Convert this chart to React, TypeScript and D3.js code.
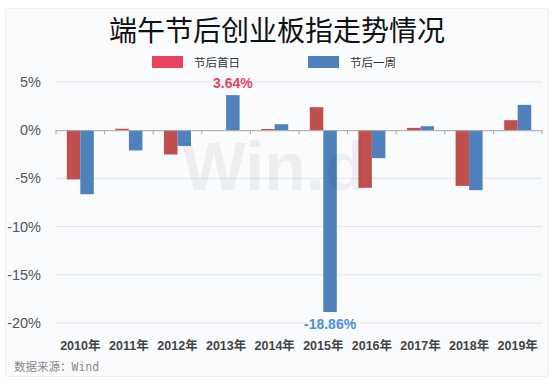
import * as d3 from "d3";
import { useEffect, useRef } from "react";

const years = ["2010年", "2011年", "2012年", "2013年", "2014年", "2015年", "2016年", "2017年", "2018年", "2019年"];
const firstDay = [-5.11, 0.15, -2.52, 0, 0.12, 2.39, -5.98, 0.24, -5.78, 1.04];
const firstWeek = [-6.64, -2.1, -1.63, 3.64, 0.62, -18.86, -2.9, 0.41, -6.22, 2.63];
const seriesNames = ["节后首日", "节后一周"];
const yTicks = [5, 0, -5, -10, -15, -20];

const W = 554;
const H = 384;
const CJK = "'Noto Sans CJK SC', 'Liberation Sans', sans-serif";
const LATIN = "'Liberation Sans', 'Noto Sans CJK SC', Arial, sans-serif";

export default function App() {
  const svgRef = useRef<SVGSVGElement | null>(null);

  useEffect(() => {
    if (!svgRef.current) return;
    const svg = d3.select(svgRef.current);
    svg.selectAll("*").remove();

    const plot = { left: 56, right: 542 };

    const x = d3.scaleBand<string>().domain(years).range([plot.left, plot.right]);
    const inner = d3
      .scaleBand<number>()
      .domain([0, 1])
      .range([0, 27])
      .paddingInner(0);
    const groupOffset = (x.bandwidth() - 27) / 2;

    const y = d3.scaleLinear().domain([5, -20]).range([82, 323]);

    svg.append("rect").attr("width", W).attr("height", H).attr("fill", "#ffffff");
    svg
      .append("rect")
      .attr("x", 5.5)
      .attr("y", 8.5)
      .attr("width", 543)
      .attr("height", 368)
      .attr("rx", 3)
      .attr("fill", "#f9fbfd")
      .attr("stroke", "#eceff3");

    // title
    svg
      .append("text")
      .attr("x", W / 2)
      .attr("y", 41)
      .attr("text-anchor", "middle")
      .attr("font-family", CJK)
      .attr("font-size", 28)
      .attr("fill", "#111")
      .text("端午节后创业板指走势情况");

    // legend
    const legendColors = ["#e8435f", "#4f81bd"];
    const legendX = [152, 308];
    seriesNames.forEach((name, i) => {
      svg
        .append("rect")
        .attr("x", legendX[i])
        .attr("y", 56)
        .attr("width", 31)
        .attr("height", 12)
        .attr("fill", legendColors[i]);
      svg
        .append("text")
        .attr("x", legendX[i] + 42)
        .attr("y", 66.5)
        .attr("font-family", CJK)
        .attr("font-size", 11.5)
        .attr("fill", "#333")
        .text(name);
    });

    // grid
    svg
      .append("g")
      .selectAll("line")
      .data(yTicks.filter((t) => t !== 0))
      .join("line")
      .attr("x1", plot.left)
      .attr("x2", plot.right)
      .attr("y1", (t) => y(t))
      .attr("y2", (t) => y(t))
      .attr("stroke", "#e3e5e8")
      .attr("stroke-width", 1);

    svg
      .append("g")
      .selectAll("text")
      .data(yTicks)
      .join("text")
      .attr("x", 41)
      .attr("y", (t) => y(t) + 5)
      .attr("text-anchor", "end")
      .attr("font-family", LATIN)
      .attr("font-size", 14.5)
      .attr("fill", "#555")
      .text((t) => `${t}%`);

    // bars
    const series = [
      { values: firstDay, color: "#c0504d" },
      { values: firstWeek, color: "#4f81bd" },
    ];
    series.forEach((s, si) => {
      svg
        .append("g")
        .selectAll("rect")
        .data(s.values)
        .join("rect")
        .attr("x", (_, i) => (x(years[i]) ?? 0) + groupOffset + (inner(si) ?? 0))
        .attr("y", (v) => y(Math.max(v, 0)))
        .attr("width", inner.bandwidth())
        .attr("height", (v) => Math.abs(y(v) - y(0)))
        .attr("fill", s.color);
    });

    // zero axis with ticks at band edges
    svg
      .append("line")
      .attr("x1", plot.left)
      .attr("x2", plot.right)
      .attr("y1", y(0) + 0.5)
      .attr("y2", y(0) + 0.5)
      .attr("stroke", "#a6a6a6");
    const edges = [...years.map((c) => x(c) ?? 0), plot.right];
    svg
      .append("g")
      .selectAll("line")
      .data(edges)
      .join("line")
      .attr("x1", (e) => e)
      .attr("x2", (e) => e)
      .attr("y1", y(0))
      .attr("y2", y(0) + 4)
      .attr("stroke", "#a6a6a6");

    // x labels
    svg
      .append("g")
      .selectAll("text")
      .data(years)
      .join("text")
      .attr("x", (c) => (x(c) ?? 0) + x.bandwidth() / 2)
      .attr("y", 350)
      .attr("text-anchor", "middle")
      .attr("font-family", LATIN)
      .attr("font-size", 12.5)
      .attr("font-weight", 700)
      .attr("fill", "#444")
      .text((c) => c);

    // value labels
    const i13 = years.indexOf("2013年");
    const i15 = years.indexOf("2015年");
    const blueCenter = (i: number) =>
      (x(years[i]) ?? 0) + groupOffset + (inner(1) ?? 0) + inner.bandwidth() / 2;
    svg
      .append("text")
      .attr("x", blueCenter(i13))
      .attr("y", y(firstWeek[i13]) - 7)
      .attr("text-anchor", "middle")
      .attr("font-family", LATIN)
      .attr("font-size", 14)
      .attr("font-weight", 700)
      .attr("fill", "#e8435f")
      .text(`${firstWeek[i13].toFixed(2)}%`);
    svg
      .append("text")
      .attr("x", blueCenter(i15))
      .attr("y", y(firstWeek[i15]) + 17)
      .attr("text-anchor", "middle")
      .attr("font-family", LATIN)
      .attr("font-size", 14)
      .attr("font-weight", 700)
      .attr("fill", "#4a8fdb")
      .text(`${firstWeek[i15].toFixed(2)}%`);

    // watermark
    svg
      .append("text")
      .attr("x", 274)
      .attr("y", 190)
      .attr("text-anchor", "middle")
      .attr("font-family", LATIN)
      .attr("font-size", 68)
      .attr("font-weight", 700)
      .attr("fill", "#000")
      .attr("fill-opacity", 0.05)
      .text("Win.d");

    // source
    const src = svg
      .append("text")
      .attr("x", 14)
      .attr("y", 371)
      .attr("font-size", 11.5)
      .attr("fill", "#8a8a8a");
    src.append("tspan").attr("font-family", CJK).text("数据来源：");
    src.append("tspan").attr("font-family", "'DejaVu Sans Mono', 'Liberation Mono', monospace").text("Wind");
  }, []);

  return (
    <div style={{ position: "fixed", left: 0, top: 0 }}>
      <svg ref={svgRef} width={W} height={H} style={{ display: "block" }} />
    </div>
  );
}
